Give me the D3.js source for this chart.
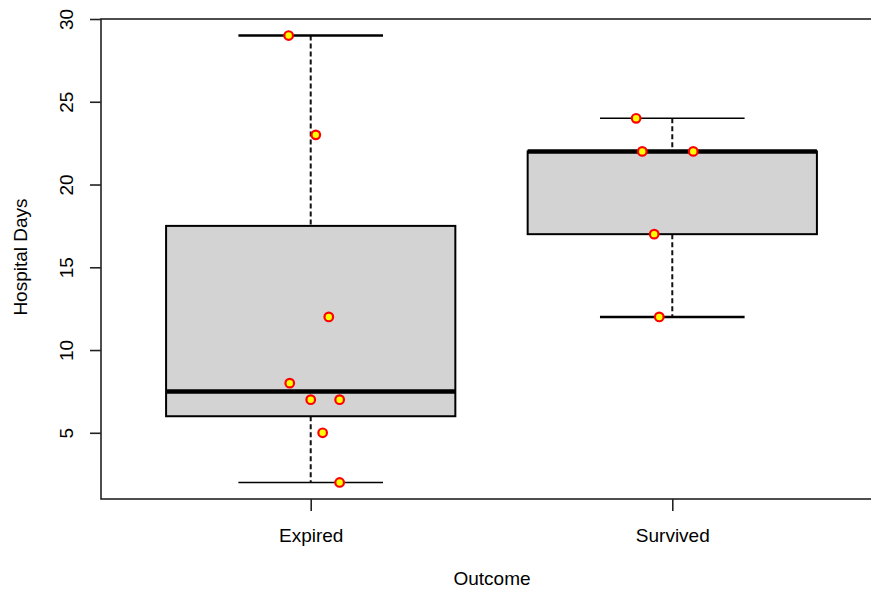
<!DOCTYPE html>
<html>
<head>
<meta charset="utf-8">
<script src="https://cdn.jsdelivr.net/npm/d3@7"></script>
<style>
  body { margin: 0; background: #fff; }
  svg { display: block; font-family: "Liberation Sans", Arial, sans-serif; }
</style>
</head>
<body>
<figure id="box" style="margin:0"></figure>
<script>
// raw observations per outcome
const categories = ["Expired", "Survived"];
const expiredDays = [29, 23, 12, 8, 7, 7, 5, 2];
const survivedDays = [24, 22, 22, 17, 12];
// horizontal jitter of each point, in category units
const expiredJitter = [-0.061, 0.014, 0.050, -0.058, 0.000, 0.080, 0.033, 0.080];
const survivedJitter = [-0.100, -0.083, 0.058, -0.050, -0.036];
const yTicks = [5, 10, 15, 20, 25, 30];

const width = 871, height = 590;
const margin = { left: 101, top: 19, right: -11, bottom: 91 };
const fontSize = 19;

const svg = d3.select("figure#box")
  .append("svg")
  .attr("width", width)
  .attr("height", height);

// x in category index units, like R's 1..n with 0.42..2.58 limits
const x = d3.scaleLinear()
  .domain([0.42, 2.58])
  .range([margin.left, width - margin.right]);

const y = d3.scaleLinear()
  .domain([1, 30])
  .range([height - margin.bottom, margin.top]);

// Tukey hinges like R's boxplot.stats
function stats(values) {
  const s = values.slice().sort(d3.ascending);
  const n = s.length;
  const half = Math.floor((n + 1) / 2);
  return {
    min: s[0],
    q1: d3.median(s.slice(0, half)),
    med: d3.median(s),
    q3: d3.median(s.slice(n - half)),
    max: s[n - 1]
  };
}

const groups = [
  { name: categories[0], values: expiredDays, jitter: expiredJitter, capTop: 2.6, capBot: 1.4 },
  { name: categories[1], values: survivedDays, jitter: survivedJitter, capTop: 1.4, capBot: 2.6 }
];

const boxHalf = 0.4, capHalf = 0.2;

groups.forEach((g, i) => {
  const c = i + 1;
  const st = stats(g.values);
  const layer = svg.append("g");

  // whiskers (dashed)
  [[st.max, st.q3], [st.q1, st.min]].forEach(seg => {
    layer.append("line")
      .attr("x1", x(c)).attr("x2", x(c))
      .attr("y1", y(seg[0])).attr("y2", y(seg[1]))
      .attr("stroke", "#111").attr("stroke-width", 2)
      .attr("stroke-dasharray", "5,3");
  });

  // caps
  layer.append("line")
    .attr("x1", x(c - capHalf)).attr("x2", x(c + capHalf))
    .attr("y1", y(st.max)).attr("y2", y(st.max))
    .attr("stroke", "#000").attr("stroke-width", g.capTop);
  layer.append("line")
    .attr("x1", x(c - capHalf)).attr("x2", x(c + capHalf))
    .attr("y1", y(st.min)).attr("y2", y(st.min))
    .attr("stroke", "#000").attr("stroke-width", g.capBot);

  // box
  layer.append("rect")
    .attr("x", x(c - boxHalf))
    .attr("y", y(st.q3))
    .attr("width", x(c + boxHalf) - x(c - boxHalf))
    .attr("height", y(st.q1) - y(st.q3))
    .attr("fill", "#d3d3d3")
    .attr("stroke", "#000")
    .attr("stroke-width", 2);

  // median
  layer.append("line")
    .attr("x1", x(c - boxHalf)).attr("x2", x(c + boxHalf))
    .attr("y1", y(st.med)).attr("y2", y(st.med))
    .attr("stroke", "#000").attr("stroke-width", 4.5);
});

// jittered points
groups.forEach((g, i) => {
  svg.append("g")
    .selectAll("circle")
    .data(g.values.map((v, k) => [i + 1 + g.jitter[k], v]))
    .enter()
    .append("circle")
    .attr("cx", d => x(d[0]))
    .attr("cy", d => y(d[1]))
    .attr("r", 4.3)
    .attr("fill", "#ffff00")
    .attr("stroke", "#ff0000")
    .attr("stroke-width", 2.2);
});

// frame (right side falls outside the picture)
svg.append("rect")
  .attr("x", x.range()[0]).attr("y", y.range()[1])
  .attr("width", x.range()[1] - x.range()[0])
  .attr("height", y.range()[0] - y.range()[1])
  .attr("fill", "none")
  .attr("stroke", "#222")
  .attr("stroke-width", 1.6);

// Y axis
const yAxis = svg.append("g")
  .attr("transform", "translate(" + margin.left + ",0)")
  .call(d3.axisLeft(y).tickValues(yTicks).tickSize(11).tickFormat(d3.format("d")));
yAxis.select(".domain").remove();
yAxis.selectAll(".tick line").attr("stroke", "#222").attr("stroke-width", 1.6);
yAxis.selectAll(".tick text")
  .attr("font-size", fontSize)
  .attr("fill", "#000")
  .attr("text-anchor", "middle")
  .attr("dy", 0)
  .attr("x", 0)
  .attr("transform", "translate(-28.5,0) rotate(-90)");

// X axis
const xAxis = svg.append("g")
  .attr("transform", "translate(0," + y.range()[0] + ")")
  .call(d3.axisBottom(x).tickValues([1, 2]).tickSize(12).tickPadding(17.5)
    .tickFormat(d => categories[d - 1]));
xAxis.select(".domain").remove();
xAxis.selectAll(".tick line").attr("stroke", "#222").attr("stroke-width", 1.6);
xAxis.selectAll(".tick text").attr("font-size", fontSize).attr("fill", "#000");

// axis titles
svg.append("text")
  .attr("x", 492)
  .attr("y", 585)
  .attr("text-anchor", "middle")
  .attr("font-size", fontSize)
  .text("Outcome");

svg.append("text")
  .attr("transform", "translate(27,257) rotate(-90)")
  .attr("text-anchor", "middle")
  .attr("font-size", fontSize)
  .text("Hospital Days");
</script>
</body>
</html>
